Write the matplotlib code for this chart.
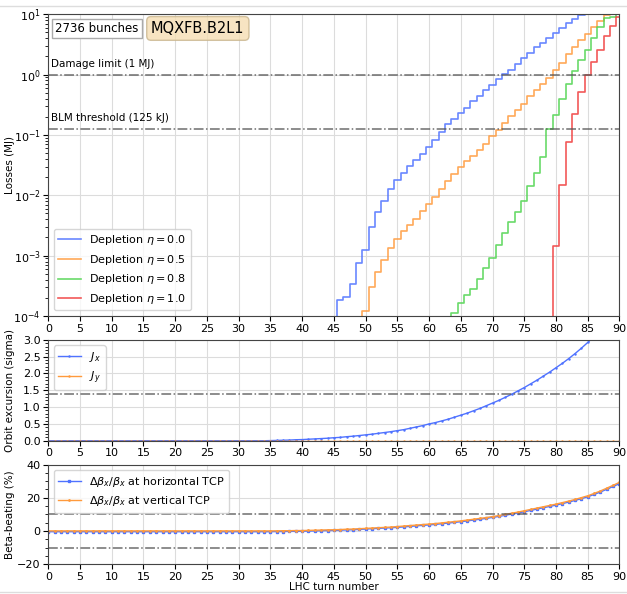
import numpy as np
import matplotlib
matplotlib.use("Agg")
import matplotlib.pyplot as plt
from matplotlib.lines import Line2D
from matplotlib.ticker import AutoMinorLocator, MultipleLocator

# ================= data =================
# cumulative losses (MJ), one value per LHC turn, drawn as steps
turns_eta00 = list(range(45, 86))
loss_eta00 = [1e-6, 1.82e-4, 2.04e-4, 3.39e-4, 7.6e-4, 1.26e-3, 3.0e-3, 5.2e-3,
              8.1e-3, 1.29e-2, 1.82e-2, 2.34e-2, 3.1e-2, 3.8e-2, 4.8e-2, 6.3e-2,
              8.3e-2, 0.112, 0.151, 0.186, 0.229, 0.282, 0.363, 0.437, 0.55,
              0.66, 0.83, 1.01, 1.20, 1.51, 1.91, 2.29, 2.82, 3.39, 4.07, 4.90,
              6.03, 7.24, 8.32, 9.77, 12.0]

turns_eta05 = list(range(49, 90))
loss_eta05 = [1e-6, 1.23e-4, 3.0e-4, 5.4e-4, 8.5e-4, 1.32e-3, 1.86e-3, 2.57e-3,
              3.24e-3, 4.07e-3, 5.4e-3, 7.1e-3, 9.5e-3, 1.29e-2, 1.70e-2,
              2.24e-2, 2.95e-2, 3.7e-2, 4.4e-2, 5.6e-2, 7.2e-2, 9.5e-2, 0.123,
              0.158, 0.204, 0.263, 0.331, 0.437, 0.55, 0.69, 0.87, 1.17, 1.55,
              2.19, 2.88, 3.80, 4.79, 6.17, 7.76, 9.77, 12.6]

turns_eta08 = list(range(63, 91))
loss_eta08 = [1e-6, 1.12e-4, 1.62e-4, 2.19e-4, 2.82e-4, 4.07e-4, 6.2e-4, 9.3e-4,
              1.48e-3, 2.40e-3, 3.55e-3, 5.2e-3, 8.1e-3, 1.41e-2, 2.34e-2,
              4.3e-2, 0.126, 0.214, 0.398, 0.69, 1.15, 1.74, 2.57, 4.07, 6.17,
              8.51, 9.1, 12.0]

turns_eta10 = list(range(79, 91))
loss_eta10 = [1e-6, 1.45e-3, 1.48e-2, 7.6e-2, 0.219, 0.513, 0.977, 1.62, 2.57,
              4.37, 6.31, 9.12]

# orbit excursion (sigma) and beta-beating (%), turns 0..90
turns = list(range(0, 91))
jx = [0.0] * 35 + [0.005, 0.01, 0.015, 0.02, 0.03, 0.035, 0.045, 0.055, 0.065,
                   0.075, 0.09, 0.10, 0.12, 0.135, 0.155, 0.175, 0.195, 0.22,
                   0.245, 0.27, 0.30, 0.33, 0.37, 0.41, 0.45, 0.50, 0.54, 0.59,
                   0.64, 0.70, 0.76, 0.82, 0.89, 0.96, 1.04, 1.12, 1.20, 1.29,
                   1.38, 1.48, 1.58, 1.69, 1.80, 1.92, 2.04, 2.17, 2.30, 2.44,
                   2.59, 2.75, 2.92, 3.10, 3.28, 3.47, 3.67, 3.88]
jy = [0.0] * 91

beat_h = [-0.4] * 36 + [-0.3, -0.3, -0.2, -0.2, -0.1, 0.0, 0.1, 0.2, 0.3, 0.4,
                        0.5, 0.7, 0.8, 1.0, 1.2, 1.4, 1.6, 1.8, 2.0, 2.2, 2.5,
                        2.8, 3.1, 3.4, 3.7, 4.0, 4.4, 4.8, 5.2, 5.6, 6.1, 6.6,
                        7.1, 7.6, 8.2, 8.8, 9.5, 10.2, 10.9, 11.6, 12.4, 13.2,
                        14.0, 14.8, 15.6, 16.5, 17.4, 18.4, 19.5, 20.6, 22.0,
                        23.5, 25.1, 26.8, 28.5]
beat_v = [0.1] * 36 + [0.1, 0.2, 0.2, 0.3, 0.3, 0.4, 0.5, 0.6, 0.7, 0.8, 0.9,
                       1.1, 1.2, 1.4, 1.6, 1.8, 2.0, 2.2, 2.4, 2.7, 3.0, 3.3,
                       3.6, 3.9, 4.2, 4.5, 4.9, 5.3, 5.7, 6.1, 6.6, 7.1, 7.6,
                       8.1, 8.7, 9.3, 10.0, 10.7, 11.4, 12.2, 13.0, 13.8, 14.6,
                       15.4, 16.2, 17.1, 18.0, 19.0, 20.1, 21.2, 22.6, 24.1,
                       25.8, 27.5, 29.3]

# ================= styling =================
C_BLUE = "#4f72ff"
C_ORANGE = "#ff9a3c"
C_GREEN = "#4fd44f"
C_RED = "#f03c3c"
LIM_STYLE = dict(color="#555555", ls="-.", lw=1.1, alpha=0.85)
GRID_STYLE = dict(color="#dcdcdc", lw=0.8)

plt.rcParams["font.family"] = ["DejaVu Sans"]
plt.rcParams["font.size"] = 8
plt.rcParams["axes.edgecolor"] = "#444444"

fig = plt.figure(figsize=(6.27, 5.94), dpi=100)
ax1 = fig.add_axes([0.077, 0.468, 0.911, 0.508])
ax2 = fig.add_axes([0.077, 0.258, 0.911, 0.170])
ax3 = fig.add_axes([0.077, 0.050, 0.911, 0.168])

# ================= 1. losses =================
series = [
    (turns_eta00, loss_eta00, C_BLUE, r"Depletion $\eta = 0.0$"),
    (turns_eta05, loss_eta05, C_ORANGE, r"Depletion $\eta = 0.5$"),
    (turns_eta08, loss_eta08, C_GREEN, r"Depletion $\eta = 0.8$"),
    (turns_eta10, loss_eta10, C_RED, r"Depletion $\eta = 1.0$"),
]
for t, v, c, lab in series:
    ax1.step(t, v, where="mid", color=c, lw=1.2, alpha=0.85, label=lab)

ax1.set_yscale("log")
ax1.set_ylim(1e-4, 1e1)
ax1.axhline(1.0, **LIM_STYLE)
ax1.axhline(0.125, **LIM_STYLE)
ax1.text(0.5, 1.22, "Damage limit (1 MJ)", fontsize=7.5, va="bottom")
ax1.text(0.5, 0.155, "BLM threshold (125 kJ)", fontsize=7.5, va="bottom")
ax1.text(0.012, 0.953, "2736 bunches", transform=ax1.transAxes, fontsize=8.5,
         va="center", bbox=dict(facecolor="white", edgecolor="#aaaaaa", pad=2.5))
ax1.text(0.18, 0.953, "MQXFB.B2L1", transform=ax1.transAxes, fontsize=10.5,
         va="center", bbox=dict(boxstyle="round,pad=0.3", facecolor="#f5deb3",
                                edgecolor="#c8b48c", alpha=0.8))
ax1.set_ylabel("Losses (MJ)", fontsize=7.5)
ax1.legend(loc="lower left", fontsize=8, framealpha=0.8)

# ================= 2. orbit excursion =================
ax2.plot(turns, jx, color=C_BLUE, lw=1.0, marker=".", ms=1.5, label=r"$J_x$")
ax2.plot(turns, jy, color=C_ORANGE, lw=1.0, marker=".", ms=1.5, label=r"$J_y$")
ax2.axhline(1.4, **LIM_STYLE)
ax2.set_ylim(0, 3)
ax2.yaxis.set_major_locator(MultipleLocator(0.5))
ax2.yaxis.set_minor_locator(AutoMinorLocator(5))
ax2.set_ylabel("Orbit excursion (sigma)", fontsize=7.5)
ax2.legend(loc="upper left", fontsize=8, framealpha=0.8)

# ================= 3. beta-beating =================
ax3.plot(turns, beat_h, color=C_BLUE, lw=1.0, marker="s", ms=2,
         label=r"$\Delta\beta_x/\beta_x$ at horizontal TCP")
ax3.plot(turns, beat_v, color=C_ORANGE, lw=1.0, marker=".", ms=2,
         label=r"$\Delta\beta_x/\beta_x$ at vertical TCP")
ax3.axhline(10, **LIM_STYLE)
ax3.axhline(-10, **LIM_STYLE)
ax3.set_ylim(-20, 40)
ax3.yaxis.set_major_locator(MultipleLocator(20))
ax3.yaxis.set_minor_locator(AutoMinorLocator(4))
ax3.set_ylabel("Beta-beating (%)", fontsize=7.5)
ax3.set_xlabel("LHC turn number", fontsize=7.5, labelpad=0)
ax3.legend(loc="upper left", fontsize=8, framealpha=0.8)

for ax in (ax1, ax2, ax3):
    ax.set_xlim(0, 90)
    ax.xaxis.set_major_locator(MultipleLocator(5))
    ax.grid(True, which="major", **GRID_STYLE)
    ax.set_axisbelow(True)
    ax.tick_params(labelsize=8, pad=2)
    ax.yaxis.set_label_coords(-0.058, 0.5)

# thin frame lines of the original screenshot
fig.add_artist(Line2D([0, 1], [0.99, 0.99], color="#dddddd", lw=1))
fig.add_artist(Line2D([0, 1], [0.003, 0.003], color="#dddddd", lw=1))

fig.savefig("out.png", dpi=100)
